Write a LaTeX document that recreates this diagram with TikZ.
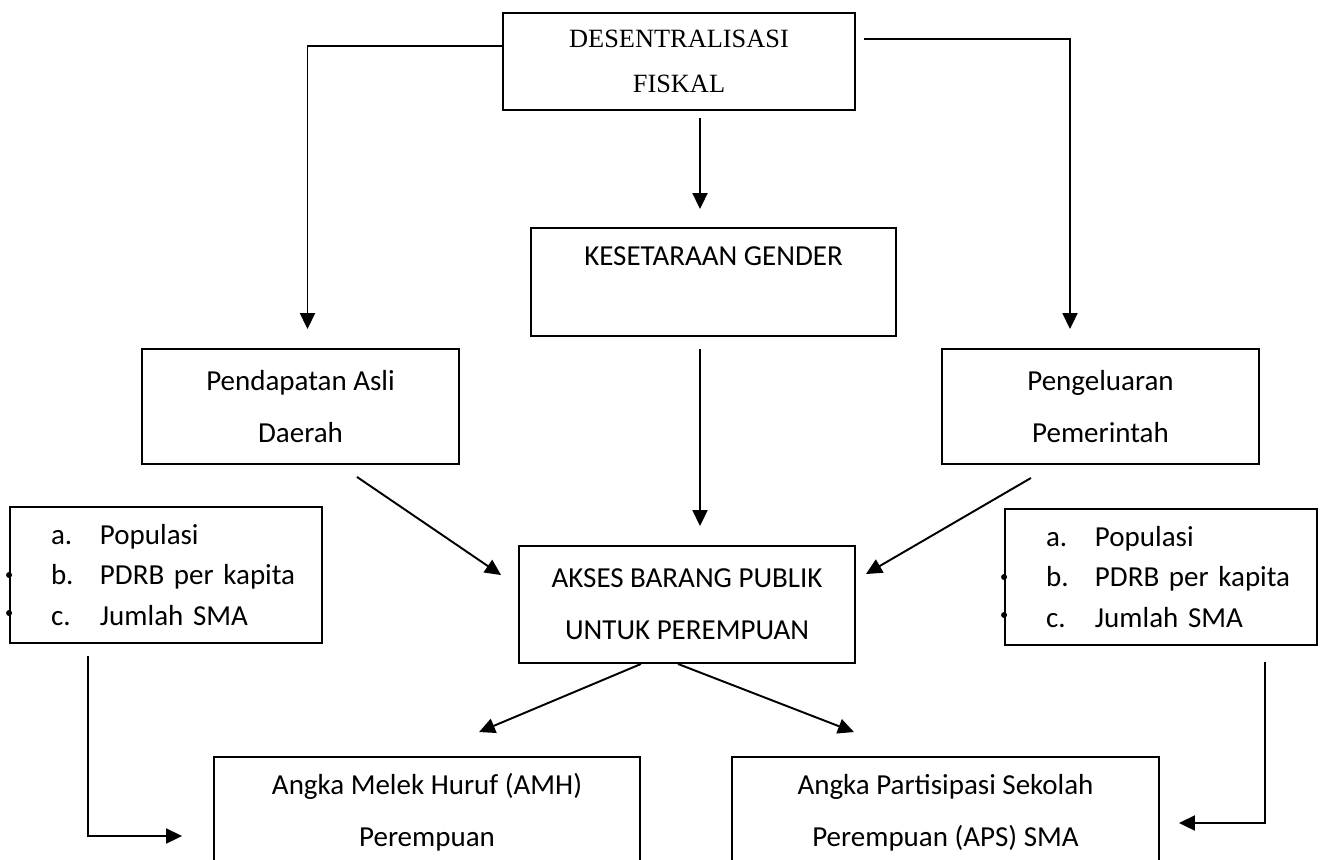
\documentclass[tikz,border=0pt]{standalone}
\usepackage{fontspec}
\setmainfont{Carlito}
\newfontfamily\timesfont{Liberation Serif}
\usetikzlibrary{arrows.meta,positioning,calc}
\tikzset{
kotak/.style={draw,line width=1.1pt,inner sep=0pt,align=center,
    font=\fontsize{16.5}{29.6}\selectfont},
daftar/.style={draw,line width=1.1pt,inner sep=0pt,
    text width=6.24cm,align=left,minimum height=2.72cm,
    font=\fontsize{16.5}{22.8}\selectfont},
arr/.style={-{Triangle[length=0.32cm,width=0.3cm]},line width=1.1pt},
titik/.style={fill=black},
}
\newcommand{\butir}[2]{\hspace*{0.82cm}\makebox[0.98cm][l]{#1}#2}

\begin{document}
\begin{tikzpicture}[x=0.02cm,y=-0.02cm]
        \useasboundingbox (0,0) rectangle (1322,859);
        \clip (0,0) rectangle (1322,859);

        \node[kotak,minimum width=7.04cm,minimum height=1.94cm,
            font=\timesfont\fontsize{15}{25.6}\selectfont]
        (fiskal) at (679,61.5) {DESENTRALISASI\\FISKAL};
        \node[kotak,minimum width=7.3cm,minimum height=2.16cm]
        (kes) at (713.5,282) {KESETARAAN GENDER\\\mbox{}};
        \node[kotak,minimum width=6.34cm,minimum height=2.3cm]
        (pad) at (300.5,406.5) {Pendapatan Asli\\Daerah};
        \node[kotak,minimum width=6.34cm,minimum height=2.3cm]
        (peng) at (1100.5,406.5) {Pengeluaran\\Pemerintah};
        \node[kotak,minimum width=6.72cm,minimum height=2.34cm]
        (akses) at (687,604.5) {AKSES BARANG PUBLIK\\UNTUK PEREMPUAN};
        \node[daftar] (kiri) at (166,575)
        {\butir{a.}{Populasi}\\\butir{b.}{PDRB per kapita}\\\butir{c.}{Jumlah SMA}};
        \node[daftar] (kanan) at (1161,577)
        {\butir{a.}{Populasi}\\\butir{b.}{PDRB per kapita}\\\butir{c.}{Jumlah SMA}};
        \node[kotak,minimum width=8.52cm,minimum height=2.22cm]
        (amh) at (427,812.5) {Angka Melek Huruf (AMH)\\Perempuan};
        \node[kotak,minimum width=8.54cm,minimum height=2.22cm]
        (aps) at (945.5,812.5) {Angka Partisipasi Sekolah\\Perempuan (APS) SMA};

        % sisa tanda butir
        \fill[titik] (kiri.west) circle[radius=0.06cm]
        ($(kiri.west)+(0,38)$) circle[radius=0.06cm];
        \fill[titik] (kanan.west) circle[radius=0.06cm]
        ($(kanan.west)+(0,38)$) circle[radius=0.06cm];

        \coordinate (poros) at (700,0);

        \draw[arr] ([yshift=0.31cm]fiskal.west) -| ($(pad.north)+(7,-19)$);
        \draw[arr] ($(fiskal.east)+(8,-22.5)$) -| ($(peng.north)+(-30.5,-19)$);
        \draw[arr,shorten <=0.14cm,shorten >=0.36cm]
        (fiskal.south -| poros) -- (kes.north -| poros);
        \draw[arr,shorten <=0.24cm,shorten >=0.38cm]
        (kes.south -| poros) -- (akses.north -| poros);

        \draw[arr] ($(pad.south)+(56.5,12)$) -- ($(akses.north west)+(-17,30)$);
        \draw[arr] ($(peng.south)+(-69.5,13)$) -- ($(akses.north east)+(10,29)$);
        \draw[arr] ($(akses.south)+(-46,0)$) -- ($(amh.north)+(52,-24)$);
        \draw[arr] ($(akses.south)+(-9,0)$) -- ($(aps.north)+(-91.5,-24)$);

        \draw[arr] ($(kiri.south)+(-78,12)$) |- ($(amh.west)+(-31,23.5)$);
        \draw[arr] ($(kanan.south)+(104,16)$) |- ($(aps.east)+(19,10.5)$);
    \end{tikzpicture}
\end{document}
